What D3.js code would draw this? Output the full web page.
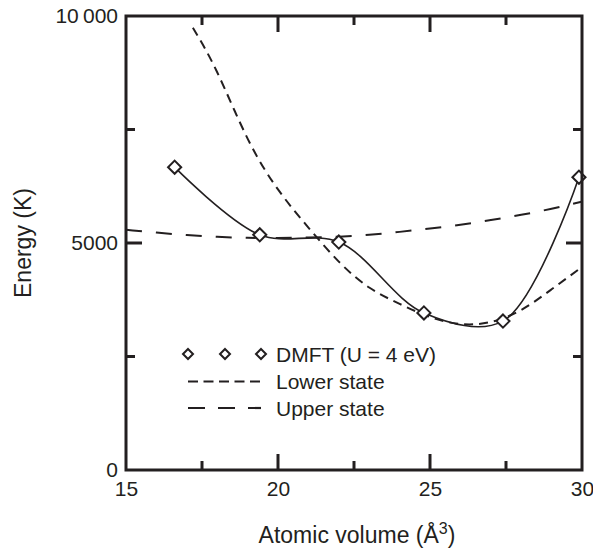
<!DOCTYPE html>
<html>
<head>
<meta charset="utf-8">
<script src="https://cdn.jsdelivr.net/npm/d3@7"></script>
<style>
  html, body { margin: 0; padding: 0; background: #fff; }
  svg { display: block; }
  text { font-family: "Liberation Sans", Arial, Helvetica, sans-serif; fill: #231f20; }
</style>
</head>
<body>
<svg id="chart" width="593" height="553"></svg>
<script>
// DMFT (U = 4 eV) points
const dmftVolume = [16.6, 19.4, 22.0, 24.8, 27.4, 29.9];
const dmftEnergy = [6670, 5180, 5020, 3460, 3280, 6450];

// Lower state curve (short dashes)
const lowerVolume = [17.2, 18, 19, 20, 21, 22, 23, 24, 25, 26, 27, 28, 29, 30];
const lowerEnergy = [9740, 8760, 7300, 6180, 5340, 4590, 4020, 3660, 3370, 3216, 3260, 3525, 3980, 4470];

// Upper state curve (long dashes)
const upperVolume = [15, 16, 17, 18, 19, 20, 21, 22, 23, 24, 25, 26, 27, 28, 29, 30];
const upperEnergy = [5290, 5230, 5175, 5135, 5115, 5110, 5120, 5140, 5180, 5245, 5320, 5400, 5505, 5620, 5755, 5910];

// Axis ticks
const xTickValues = [15, 20, 25, 30];
const xMajorTicks = [20, 25];
const xMinorTicks = [17.5, 22.5, 27.5];
const yTickValues = [0, 5000, 10000];
const yMajorTicks = [5000];
const yMinorTicks = [2500, 7500];
const yTickLabels = ["0", "5000", "10\u2009000"];

const legendLabels = ["DMFT (U = 4 eV)", "Lower state", "Upper state"];

(function () {
const ink = "#231f20";
const svg = d3.select("#chart");
const mL = 126, mR = 582, mT = 16, mB = 470;

const x = d3.scaleLinear().domain([15, 30]).range([mL, mR]);
const y = d3.scaleLinear().domain([0, 10000]).range([mB, mT]);

const plot = svg.append("g");

const natural = d3.line().x(d => x(d[0])).y(d => y(d[1])).curve(d3.curveNatural);
const catmull = d3.line().x(d => x(d[0])).y(d => y(d[1])).curve(d3.curveCatmullRom.alpha(0.5));

plot.append("path")
  .datum(d3.zip(upperVolume, upperEnergy))
  .attr("d", natural)
  .attr("fill", "none").attr("stroke", ink).attr("stroke-width", 2)
  .attr("stroke-dasharray", "16,14");

plot.append("path")
  .datum(d3.zip(lowerVolume, lowerEnergy))
  .attr("d", natural)
  .attr("fill", "none").attr("stroke", ink).attr("stroke-width", 2)
  .attr("stroke-dasharray", "9,6");

plot.append("path")
  .datum(d3.zip(dmftVolume, dmftEnergy))
  .attr("d", catmull)
  .attr("fill", "none").attr("stroke", ink).attr("stroke-width", 1.6);

plot.selectAll(".pt")
  .data(d3.zip(dmftVolume, dmftEnergy))
  .join("path")
  .attr("class", "pt")
  .attr("transform", d => `translate(${x(d[0])},${y(d[1])})`)
  .attr("d", d3.symbol().type(d3.symbolDiamond2).size(110)())
  .attr("fill", "#fff").attr("stroke", ink).attr("stroke-width", 2);

// Inward ticks on all four sides
const majLen = 16, minLen = 9;
const tg = svg.append("g").attr("stroke", ink).attr("stroke-width", 3);
function xTicks(vals, len) {
  vals.forEach(v => {
    tg.append("line").attr("x1", x(v)).attr("x2", x(v)).attr("y1", mB).attr("y2", mB - len);
    tg.append("line").attr("x1", x(v)).attr("x2", x(v)).attr("y1", mT).attr("y2", mT + len);
  });
}
function yTicks(vals, len) {
  vals.forEach(v => {
    tg.append("line").attr("y1", y(v)).attr("y2", y(v)).attr("x1", mL).attr("x2", mL + len);
    tg.append("line").attr("y1", y(v)).attr("y2", y(v)).attr("x1", mR).attr("x2", mR - len);
  });
}
xTicks(xMajorTicks, majLen);
xTicks(xMinorTicks, minLen);
yTicks(yMajorTicks, majLen);
yTicks(yMinorTicks, minLen);

svg.append("rect")
  .attr("x", mL).attr("y", mT)
  .attr("width", mR - mL).attr("height", mB - mT)
  .attr("fill", "none").attr("stroke", ink).attr("stroke-width", 3);

const xLab = svg.append("g").attr("transform", `translate(0,${mB})`)
  .call(d3.axisBottom(x).tickValues(xTickValues).tickSize(0).tickPadding(11).tickFormat(d3.format("d")));
xLab.select(".domain").remove();
xLab.selectAll("text").attr("font-size", 21).attr("font-family", "Liberation Sans, Arial, sans-serif").attr("fill", ink);

const yLab = svg.append("g").attr("transform", `translate(${mL},0)`)
  .call(d3.axisLeft(y).tickValues(yTickValues).tickSize(0).tickPadding(8)
    .tickFormat((d, i) => yTickLabels[i]));
yLab.select(".domain").remove();
yLab.selectAll("text").attr("font-size", 21).attr("font-family", "Liberation Sans, Arial, sans-serif").attr("fill", ink);

const xt = svg.append("text")
  .attr("x", (mL + mR) / 2 + 3).attr("y", 543)
  .attr("text-anchor", "middle").attr("font-size", 23);
xt.append("tspan").text("Atomic volume (Å");
xt.append("tspan").text("3").attr("font-size", 16).attr("dy", -9);
xt.append("tspan").text(")").attr("dy", 9);

svg.append("text")
  .attr("transform", `translate(31,${(mT + mB) / 2}) rotate(-90)`)
  .attr("text-anchor", "middle").attr("font-size", 23)
  .text("Energy (K)");

const legX0 = 188, legX1 = 261, legTextX = 276;
const legRows = [354, 381.5, 408];
const leg = svg.append("g");
[188, 225, 261].forEach(cx => {
  leg.append("path")
    .attr("transform", `translate(${cx},${legRows[0]})`)
    .attr("d", d3.symbol().type(d3.symbolDiamond2).size(64)())
    .attr("fill", "#fff").attr("stroke", ink).attr("stroke-width", 2);
});
leg.append("line").attr("x1", legX0).attr("x2", legX1).attr("y1", legRows[1]).attr("y2", legRows[1])
  .attr("stroke", ink).attr("stroke-width", 2).attr("stroke-dasharray", "10,5.5");
leg.append("line").attr("x1", legX0).attr("x2", legX1).attr("y1", legRows[2]).attr("y2", legRows[2])
  .attr("stroke", ink).attr("stroke-width", 2.2).attr("stroke-dasharray", "17,13");
legendLabels.forEach((t, i) => {
  leg.append("text").attr("x", legTextX).attr("y", legRows[i] + 7.5)
    .attr("font-size", 21).text(t);
});
})();
</script>
</body>
</html>
